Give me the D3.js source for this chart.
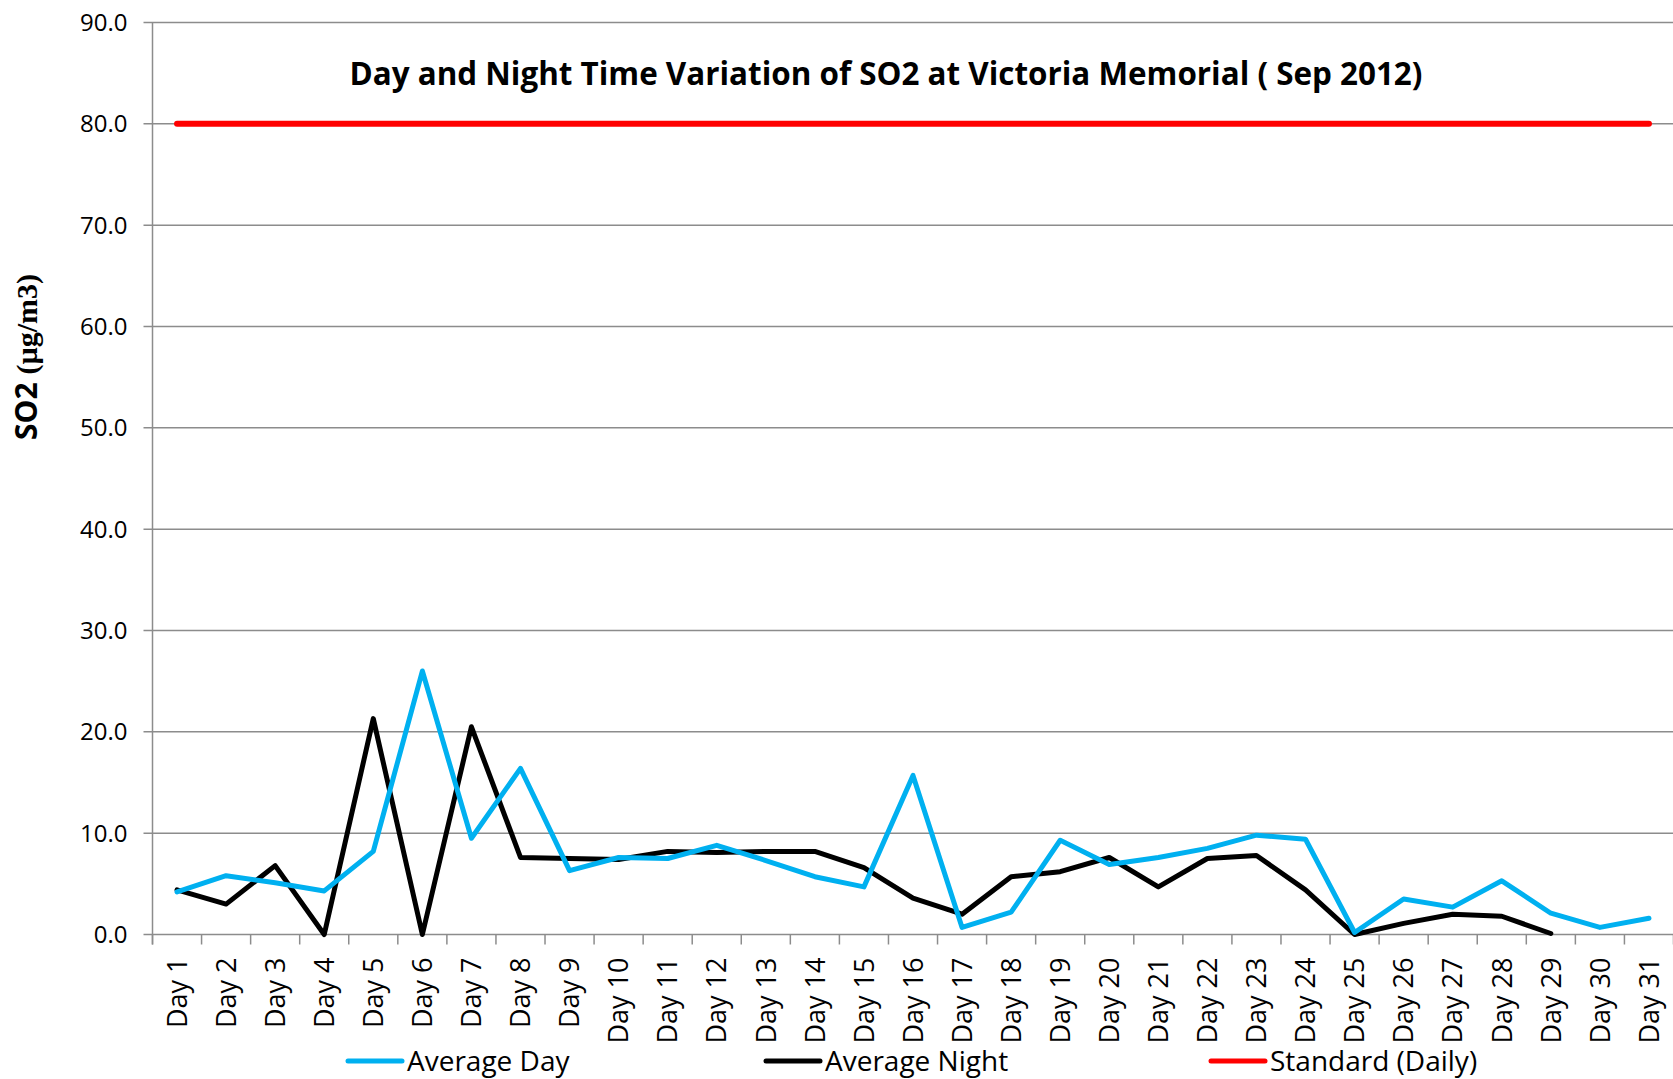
<!DOCTYPE html>
<html>
<head>
<meta charset="utf-8">
<script src="https://cdn.jsdelivr.net/npm/d3@7"></script>
<style>
  body { margin: 0; background: #fff; }
  svg { display: block; font-family: "Open Sans", sans-serif; }
</style>
</head>
<body>
<div id="chart"></div>
<script>
var days = d3.range(1, 32).map(function (d) { return "Day " + d; });

var avgDay = [4.2, 5.8, 5.1, 4.3, 8.2, 26.0, 9.5, 16.4, 6.3, 7.6, 7.5, 8.8, 7.3, 5.7, 4.7, 15.7,
              0.7, 2.2, 9.3, 6.9, 7.6, 8.5, 9.8, 9.4, 0.2, 3.5, 2.7, 5.3, 2.1, 0.7, 1.6];
var avgNight = [4.4, 3.0, 6.8, 0.0, 21.3, 0.0, 20.5, 7.6, 7.5, 7.4, 8.2, 8.1, 8.2, 8.2, 6.6, 3.6,
                2.0, 5.7, 6.2, 7.6, 4.7, 7.5, 7.8, 4.4, 0.0, 1.1, 2.0, 1.8, 0.1, null, null];
var standard = days.map(function () { return 80; });

var yTicks = [0, 10, 20, 30, 40, 50, 60, 70, 80, 90];

var series = [
  { name: "Average Day", values: avgDay, color: "#00b0f0", width: 5 },
  { name: "Average Night", values: avgNight, color: "#000000", width: 5 },
  { name: "Standard (Daily)", values: standard, color: "#ff0000", width: 6 }
];

var W = 1673, H = 1079;
var plotL = 152.5, plotR = 1673.5, plotT = 22.5, plotB = 934.5;

var svg = d3.select("#chart").append("svg")
  .attr("width", W)
  .attr("height", H);

var x = d3.scaleBand().domain(days).range([plotL, plotR]);
var y = d3.scaleLinear().domain([0, 90]).range([plotB, plotT]);

// grid
svg.append("g").selectAll("line")
  .data(yTicks)
  .enter().append("line")
    .attr("x1", plotL - 9)
    .attr("x2", plotR)
    .attr("y1", function (d) { return y(d); })
    .attr("y2", function (d) { return y(d); })
    .attr("stroke", "#8c8c8c")
    .attr("stroke-width", 1.5);

// y labels
svg.append("g").selectAll("text")
  .data(yTicks)
  .enter().append("text")
    .attr("x", plotL - 25)
    .attr("y", function (d) { return y(d); })
    .attr("dy", "0.36em")
    .attr("text-anchor", "end")
    .style("font-size", "24px")
    .text(function (d) { return d.toFixed(1); });

// y axis line
svg.append("line")
  .attr("x1", plotL).attr("x2", plotL)
  .attr("y1", plotT).attr("y2", plotB + 10)
  .attr("stroke", "#8c8c8c")
  .attr("stroke-width", 1.5);

// x ticks at category boundaries
var bounds = days.map(function (d) { return x(d); }).concat([plotR]);
svg.append("g").selectAll("line")
  .data(bounds)
  .enter().append("line")
    .attr("x1", function (d) { return d; })
    .attr("x2", function (d) { return d; })
    .attr("y1", plotB)
    .attr("y2", plotB + 10)
    .attr("stroke", "#8c8c8c")
    .attr("stroke-width", 1.5);

// x labels
svg.append("g").selectAll("text")
  .data(days)
  .enter().append("text")
    .attr("transform", function (d) {
      return "translate(" + (x(d) + x.bandwidth() / 2) + "," + (plotB + 23) + ") rotate(-90)";
    })
    .attr("dy", "0.36em")
    .attr("text-anchor", "end")
    .style("font-size", "27px")
    .text(function (d) { return d; });

// lines
var line = d3.line()
  .defined(function (d) { return d != null; })
  .x(function (d, i) { return x(days[i]) + x.bandwidth() / 2; })
  .y(function (d) { return y(d); });

svg.append("g").selectAll("path")
  .data(series.slice().reverse())
  .enter().append("path")
    .attr("d", function (s) { return line(s.values); })
    .attr("fill", "none")
    .attr("stroke", function (s) { return s.color; })
    .attr("stroke-width", function (s) { return s.width; })
    .attr("stroke-linejoin", "round")
    .attr("stroke-linecap", "round");

// title
svg.append("text")
  .attr("x", 886)
  .attr("y", 85)
  .attr("text-anchor", "middle")
  .style("font-size", "31.4px")
  .style("font-weight", "bold")
  .text("Day and Night Time Variation of SO2 at Victoria Memorial ( Sep 2012)");

// y axis title
var yt = svg.append("text")
  .attr("transform", "translate(37,357) rotate(-90)")
  .attr("text-anchor", "middle")
  .style("font-size", "30px")
  .style("font-weight", "bold");
yt.append("tspan").text("SO2 ");
yt.append("tspan").style("font-family", "'Liberation Serif', serif").text("(µg/m3)");

// legend
var legendX = [348, 766, 1211];
var lg = svg.append("g").selectAll("g")
  .data(series)
  .enter().append("g")
    .attr("transform", function (d, i) { return "translate(" + legendX[i] + ",1061)"; });
lg.append("line")
  .attr("x1", 0).attr("x2", 54)
  .attr("stroke", function (d) { return d.color; })
  .attr("stroke-width", 5)
  .attr("stroke-linecap", "round");
lg.append("text")
  .attr("x", 59)
  .attr("y", 10)
  .style("font-size", "28px")
  .text(function (d) { return d.name; });
</script>
</body>
</html>
